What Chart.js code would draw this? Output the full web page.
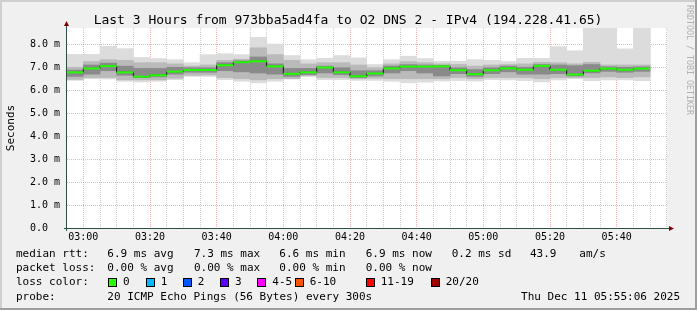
<!DOCTYPE html>
<html><head><meta charset="utf-8">
<script src="https://cdn.jsdelivr.net/npm/chart.js@4"></script>
<style>html,body{margin:0;padding:0;background:#f0f0f0;overflow:hidden}canvas{display:block}</style>
</head><body>
<canvas id="c" width="697" height="310"></canvas>
<script>
// ---------- data ----------
const binStarts = ["02:55","03:00","03:05","03:10","03:15","03:20","03:25","03:30","03:35","03:40","03:45","03:50","03:55",
  "04:00","04:05","04:10","04:15","04:20","04:25","04:30","04:35","04:40","04:45","04:50","04:55",
  "05:00","05:05","05:10","05:15","05:20","05:25","05:30","05:35","05:40","05:45"];
const medianRtt = [6.78,6.95,7.05,6.78,6.59,6.65,6.81,6.88,6.88,7.09,7.22,7.26,7.04,6.71,6.78,6.99,6.78,6.61,6.73,6.95,7.03,7.03,7.04,6.87,6.70,6.87,6.95,6.89,7.06,6.89,6.68,6.85,6.94,6.89,6.94];
const pingMin = [6.43,6.50,6.49,6.39,6.36,6.39,6.46,6.60,6.60,6.46,6.39,6.32,6.39,6.49,6.61,6.46,6.46,6.43,6.43,6.39,6.32,6.35,6.40,6.42,6.40,6.46,6.45,6.42,6.36,6.45,6.50,6.42,6.45,6.45,6.42];
const pingMax = [7.56,7.56,7.91,7.81,7.43,7.38,7.33,7.20,7.55,7.59,7.55,8.30,8.01,7.51,7.33,7.39,7.51,7.41,7.12,7.33,7.48,7.38,7.26,7.26,7.33,7.30,7.25,7.39,7.39,7.90,7.72,8.90,8.90,7.80,8.90];
const band2Lo = [6.47,6.55,6.55,6.45,6.45,6.45,6.52,6.65,6.66,6.55,6.50,6.45,6.50,6.50,6.62,6.55,6.55,6.50,6.52,6.50,6.50,6.50,6.50,6.55,6.50,6.55,6.55,6.55,6.50,6.55,6.55,6.55,6.58,6.55,6.58];
const band2Hi = [7.00,7.25,7.33,7.30,7.20,7.20,7.15,7.05,7.10,7.30,7.35,7.85,7.55,7.30,7.15,7.20,7.20,7.10,6.98,7.15,7.25,7.20,7.15,7.12,7.05,7.10,7.12,7.15,7.22,7.20,7.15,7.22,7.10,7.10,7.10];
const band3Lo = [6.60,6.70,6.85,6.65,6.55,6.58,6.70,6.78,6.78,6.85,6.80,6.75,6.70,6.60,6.68,6.75,6.68,6.55,6.62,6.75,6.85,6.75,6.62,6.72,6.60,6.72,6.80,6.70,6.70,6.72,6.62,6.75,6.82,6.78,6.82];
const band3Hi = [6.88,7.10,7.18,7.05,6.95,6.95,7.00,6.98,6.98,7.20,7.28,7.45,7.15,6.95,6.95,7.05,6.98,6.85,6.85,7.05,7.12,7.10,7.08,6.98,6.90,6.98,7.05,7.00,7.12,7.10,7.07,7.12,7.02,7.00,7.02];
const xTickLabels = ["03:00","03:20","03:40","04:00","04:20","04:40","05:00","05:20","05:40"];
const yTickLabels = ["0.0  ","1.0 m","2.0 m","3.0 m","4.0 m","5.0 m","6.0 m","7.0 m","8.0 m"];
const titleText = "Last 3 Hours from 973bba5ad4fa to O2 DNS 2 - IPv4 (194.228.41.65)";
const yAxisTitle = "Seconds";
const statsRtt = ["median rtt:", "6.9 ms avg", "7.3 ms max", "6.6 ms min", "6.9 ms now", "0.2 ms sd", "43.9", "am/s"];
const statsLoss = ["packet loss:", "0.00 % avg", "0.00 % max", "0.00 % min", "0.00 % now"];
const lossLabels = ["0","1","2","3","4-5","6-10","11-19","20/20"];
const lossColors = ["#26ff00","#00b8ff","#0059ff","#5e00ff","#ff00ff","#ff5500","#ff0000","#a10000"];
const probeText = ["probe:", "20 ICMP Echo Pings (56 Bytes) every 300s"];
const dateText = "Thu Dec 11 05:55:06 2025";
const sideText = "RRDTOOL / TOBI OETIKER";

// ---------- helpers ----------
const toMin = s => { const [h, m] = s.split(':').map(Number); return h * 60 + m; };
const graphStart = toMin("02:55") + 6 / 60;   // 02:55:06
const graphSpan = 180;
const stepMin = 5;
const fmt = t => { t = Math.round(t); const h = Math.floor(t / 60), m = t % 60; return String(h).padStart(2,'0') + ':' + String(m).padStart(2,'0'); };
const centers = binStarts.map(s => toMin(s) - graphStart + stepMin / 2);
const range = (lo, hi) => centers.map((x, i) => ({x, y: [lo[i], hi[i]]}));
const xGrid = [];
for (let t = toMin("03:00"); t <= graphStart + graphSpan; t += stepMin) xGrid.push(t - graphStart);
const yGrid = [];
for (let v = 0; v <= 8.5 + 1e-9; v += 0.5) yGrid.push(+v.toFixed(1));
const isMajorX = v => xTickLabels.includes(fmt(v + graphStart));

const MONO = '"DejaVu Sans Mono", monospace';
const minorGrid = 'rgba(143,143,143,0.42)';
const majorGrid = 'rgba(230,70,70,0.42)';

const barOpts = {grouped: false, barPercentage: 1, categoryPercentage: 1, borderWidth: 0};

const decor = {
  id: 'decor',
  beforeDraw(chart) {
    const {ctx, chartArea: a} = chart;
    ctx.save();
    ctx.fillStyle = '#f0f0f0'; ctx.fillRect(0, 0, 697, 310);
    ctx.fillStyle = '#ffffff'; ctx.fillRect(a.left, a.top, a.right - a.left, a.bottom - a.top);
    ctx.restore();
  },
  afterDraw(chart) {
    const {ctx, chartArea: a} = chart;
    ctx.save();
    // axes
    ctx.strokeStyle = '#2c4d43'; ctx.lineWidth = 1;
    ctx.beginPath();
    ctx.moveTo(a.left - 0.5, a.bottom + 3); ctx.lineTo(a.left - 0.5, a.top - 3);
    ctx.moveTo(a.left - 3, a.bottom + 0.5); ctx.lineTo(a.right + 3, a.bottom + 0.5);
    ctx.stroke();
    // arrows
    ctx.fillStyle = '#7f0000';
    ctx.beginPath();
    ctx.moveTo(a.left - 0.5, a.top - 7); ctx.lineTo(a.left - 3, a.top - 2); ctx.lineTo(a.left + 2, a.top - 2); ctx.closePath(); ctx.fill();
    ctx.beginPath();
    ctx.moveTo(a.right + 7, a.bottom + 0.5); ctx.lineTo(a.right + 2, a.bottom - 2); ctx.lineTo(a.right + 2, a.bottom + 3); ctx.closePath(); ctx.fill();
    // title
    ctx.fillStyle = '#000';
    ctx.font = '13px ' + MONO; ctx.textAlign = 'center'; ctx.textBaseline = 'alphabetic';
    ctx.fillText(titleText, 348, 23.5);
    // y title
    ctx.save();
    ctx.translate(11, (a.top + a.bottom) / 2); ctx.rotate(-Math.PI / 2);
    ctx.font = '11px ' + MONO; ctx.textBaseline = 'middle'; ctx.textAlign = 'center';
    ctx.fillText(yAxisTitle, 0, 0);
    ctx.restore();
    // side text
    ctx.save();
    ctx.translate(689, 5); ctx.rotate(Math.PI / 2);
    ctx.font = '8.3px ' + MONO; ctx.textBaseline = 'middle'; ctx.textAlign = 'left'; ctx.fillStyle = '#b0b0b0';
    ctx.fillText(sideText, 0, 0);
    ctx.restore();
    // legend
    ctx.font = '11px ' + MONO; ctx.textBaseline = 'middle'; ctx.textAlign = 'left'; ctx.fillStyle = '#000';
    const rttX = [16, 107.3, 194, 279.3, 365.7, 451.7, 530, 579.3];
    statsRtt.forEach((s, i) => ctx.fillText(s, rttX[i], 254));
    statsLoss.forEach((s, i) => ctx.fillText(s, rttX[i], 268.3));
    ctx.fillText("loss color:", 16, 282.3);
    const boxX = [108, 145.7, 182.7, 220, 257.3, 294.7, 365.7, 430.7];
    lossLabels.forEach((s, i) => {
      ctx.fillStyle = lossColors[i];
      ctx.fillRect(Math.round(boxX[i]) + 0.5, 278.5, 8, 8);
      ctx.strokeStyle = '#000'; ctx.lineWidth = 1;
      ctx.strokeRect(Math.round(boxX[i]) + 0.5, 278.5, 8, 8);
      ctx.fillStyle = '#000';
      ctx.fillText(s, boxX[i] + 15, 282.3);
    });
    ctx.fillText(probeText[0], 16, 296.7);
    ctx.fillText(probeText[1], 107.3, 296.7);
    ctx.textAlign = 'right';
    ctx.fillText(dateText, 680, 296.7);
    // frame
    ctx.fillStyle = '#cfcfcf'; ctx.fillRect(0, 0, 697, 2); ctx.fillRect(0, 0, 2, 310);
    ctx.fillStyle = '#9e9e9e'; ctx.fillRect(0, 308, 697, 2); ctx.fillRect(695, 0, 2, 310);
    ctx.restore();
  }
};

new Chart(document.getElementById('c'), {
  type: 'bar',
  data: {
    datasets: [
      {type: 'line', label: 'median', data: centers.map((x, i) => ({x, y: medianRtt[i]})), showLine: false,
       pointStyle: 'line', pointRadius: 8.4, pointHoverRadius: 8.4, pointBorderWidth: 2,
       pointBorderColor: '#22ff00', borderColor: '#22ff00', order: 0},
      {type: 'line', label: 'step', data: centers.map((x, i) => ({x, y: medianRtt[i]})), stepped: 'middle',
       borderColor: '#111', borderWidth: 1, pointRadius: 0, fill: false, order: 1},
      {label: 'band3', data: range(band3Lo, band3Hi), backgroundColor: '#8a8a8a', order: 2, ...barOpts},
      {label: 'band2', data: range(band2Lo, band2Hi), backgroundColor: '#bababa', order: 3, ...barOpts},
      {label: 'outer', data: range(pingMin, pingMax), backgroundColor: '#dcdcdc', order: 4, ...barOpts}
    ]
  },
  options: {
    responsive: false, animation: false, devicePixelRatio: 1, events: [],
    layout: {padding: {left: 0, right: 30, top: 28, bottom: 0}},
    plugins: {legend: {display: false}, tooltip: {enabled: false}, title: {display: false}},
    scales: {
      x: {
        type: 'linear', min: 0, max: graphSpan, offset: false, z: 1,
        afterBuildTicks: s => { s.ticks = xGrid.map(v => ({value: v})); },
        afterFit: s => { s.height = 82; },
        grid: {color: c => (c.tick && isMajorX(c.tick.value)) ? majorGrid : minorGrid, lineWidth: 1, drawTicks: false, offset: false},
        border: {display: false, dash: [1, 1]},
        ticks: {autoSkip: false, maxRotation: 0, minRotation: 0, padding: 3, color: '#000',
                font: {family: MONO, size: 10},
                callback: v => isMajorX(v) ? fmt(v + graphStart) : ''}
      },
      y: {
        min: 0, max: 8.71, z: 1,
        afterBuildTicks: s => { s.ticks = yGrid.map(v => ({value: v})); },
        afterFit: s => { s.width = 67; },
        grid: {color: c => (c.tick && Number.isInteger(c.tick.value)) ? majorGrid : minorGrid, lineWidth: 1, drawTicks: false},
        border: {display: false, dash: [1, 1]},
        ticks: {padding: 7, color: '#000', font: {family: MONO, size: 10},
                callback: v => Number.isInteger(v) ? yTickLabels[v] : ''}
      }
    }
  },
  plugins: [decor]
});
</script>
</body></html>
